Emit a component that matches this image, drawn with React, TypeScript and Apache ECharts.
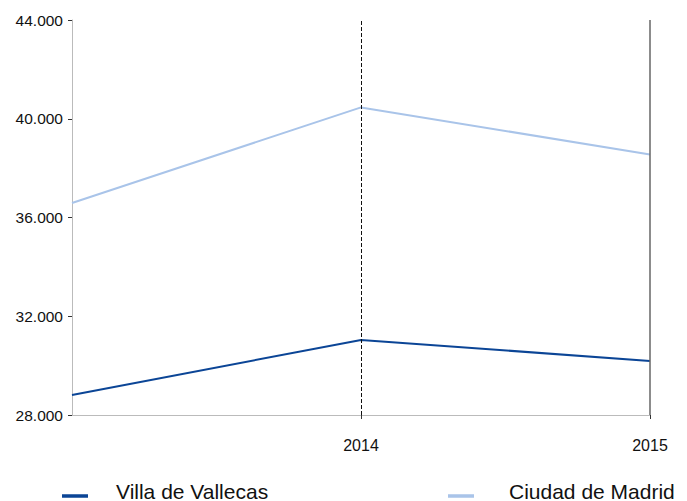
import React, { useEffect, useRef } from "react";
import * as echarts from "echarts";

const years = ["2013", "2014", "2015"];
const villaDeVallecas = [28810, 31040, 30190];
const ciudadDeMadrid = [36590, 40460, 38550];
const yTicks = [28000, 32000, 36000, 40000, 44000];

const fmt = (v: number) => {
  const s = String(Math.round(v));
  return s.replace(/\B(?=(\d{3})+(?!\d))/g, ".");
};

const FONT = "'Liberation Sans', Arial, sans-serif";
const ICON = "path://M0,0h0.01v0.01h-0.01z M0,10h26v3.5h-26z";

export default function App() {
  const ref = useRef<HTMLDivElement>(null);
  useEffect(() => {
    if (!ref.current) return;
    const chart = echarts.init(ref.current, undefined, { renderer: "svg" });
    chart.setOption({
      animation: false,
      textStyle: { fontFamily: FONT },
      grid: { left: 72, right: 37, top: 20, bottom: 86 },
      legend: [
        {
          left: 62,
          top: 480.5,
          padding: 0,
          icon: ICON,
          itemWidth: 26,
          itemHeight: 13.5,
          itemGap: 0,
          textStyle: { fontSize: 21, fontFamily: FONT, color: "#111", padding: [0, 0, 0, 23] },
          data: ["Villa de Vallecas"],
        },
        {
          left: 448,
          top: 480.5,
          padding: 0,
          icon: ICON,
          itemWidth: 26,
          itemHeight: 13.5,
          itemGap: 0,
          textStyle: { fontSize: 21, fontFamily: FONT, color: "#111", padding: [0, 0, 0, 30] },
          data: ["Ciudad de Madrid"],
        },
      ],
      xAxis: {
        type: "category",
        data: years,
        boundaryGap: false,
        axisLine: { lineStyle: { color: "#bbbbbb", width: 1 } },
        axisTick: {
          show: true,
          length: 4,
          inside: false,
          interval: (i: number) => i > 0,
          lineStyle: { color: "#333" },
        },
        axisLabel: {
          interval: (i: number) => i > 0,
          margin: 22,
          fontSize: 16,
          fontFamily: FONT,
          color: "#111",
        },
        splitLine: { show: false },
      },
      yAxis: {
        type: "value",
        min: yTicks[0],
        max: yTicks[yTicks.length - 1],
        interval: 4000,
        axisLine: { show: true, lineStyle: { color: "#bbbbbb" } },
        axisTick: { show: true, length: 4, lineStyle: { color: "#333" } },
        axisLabel: {
          fontSize: 15.5,
          fontFamily: FONT,
          color: "#111",
          margin: 9,
          formatter: (v: number) => fmt(v),
        },
        splitLine: { show: false },
      },
      series: [
        {
          name: "Villa de Vallecas",
          type: "line",
          data: villaDeVallecas,
          symbol: "none",
          color: "#0b4596",
          lineStyle: { width: 2, color: "#0b4596" },
          markLine: {
            silent: true,
            symbol: "none",
            label: { show: false },
            data: [
              { xAxis: "2014", lineStyle: { type: [4, 2], color: "#111", width: 1 } },
              { xAxis: "2015", lineStyle: { type: "solid", color: "#666", width: 1.5 } },
            ],
          },
        },
        {
          name: "Ciudad de Madrid",
          type: "line",
          data: ciudadDeMadrid,
          symbol: "none",
          color: "#a9c4e9",
          lineStyle: { width: 2, color: "#a9c4e9" },
        },
      ],
    });
    return () => chart.dispose();
  }, []);
  return (
    <div
      ref={ref}
      style={{ position: "absolute", left: 0, top: 0, width: 687, height: 501 }}
    />
  );
}
